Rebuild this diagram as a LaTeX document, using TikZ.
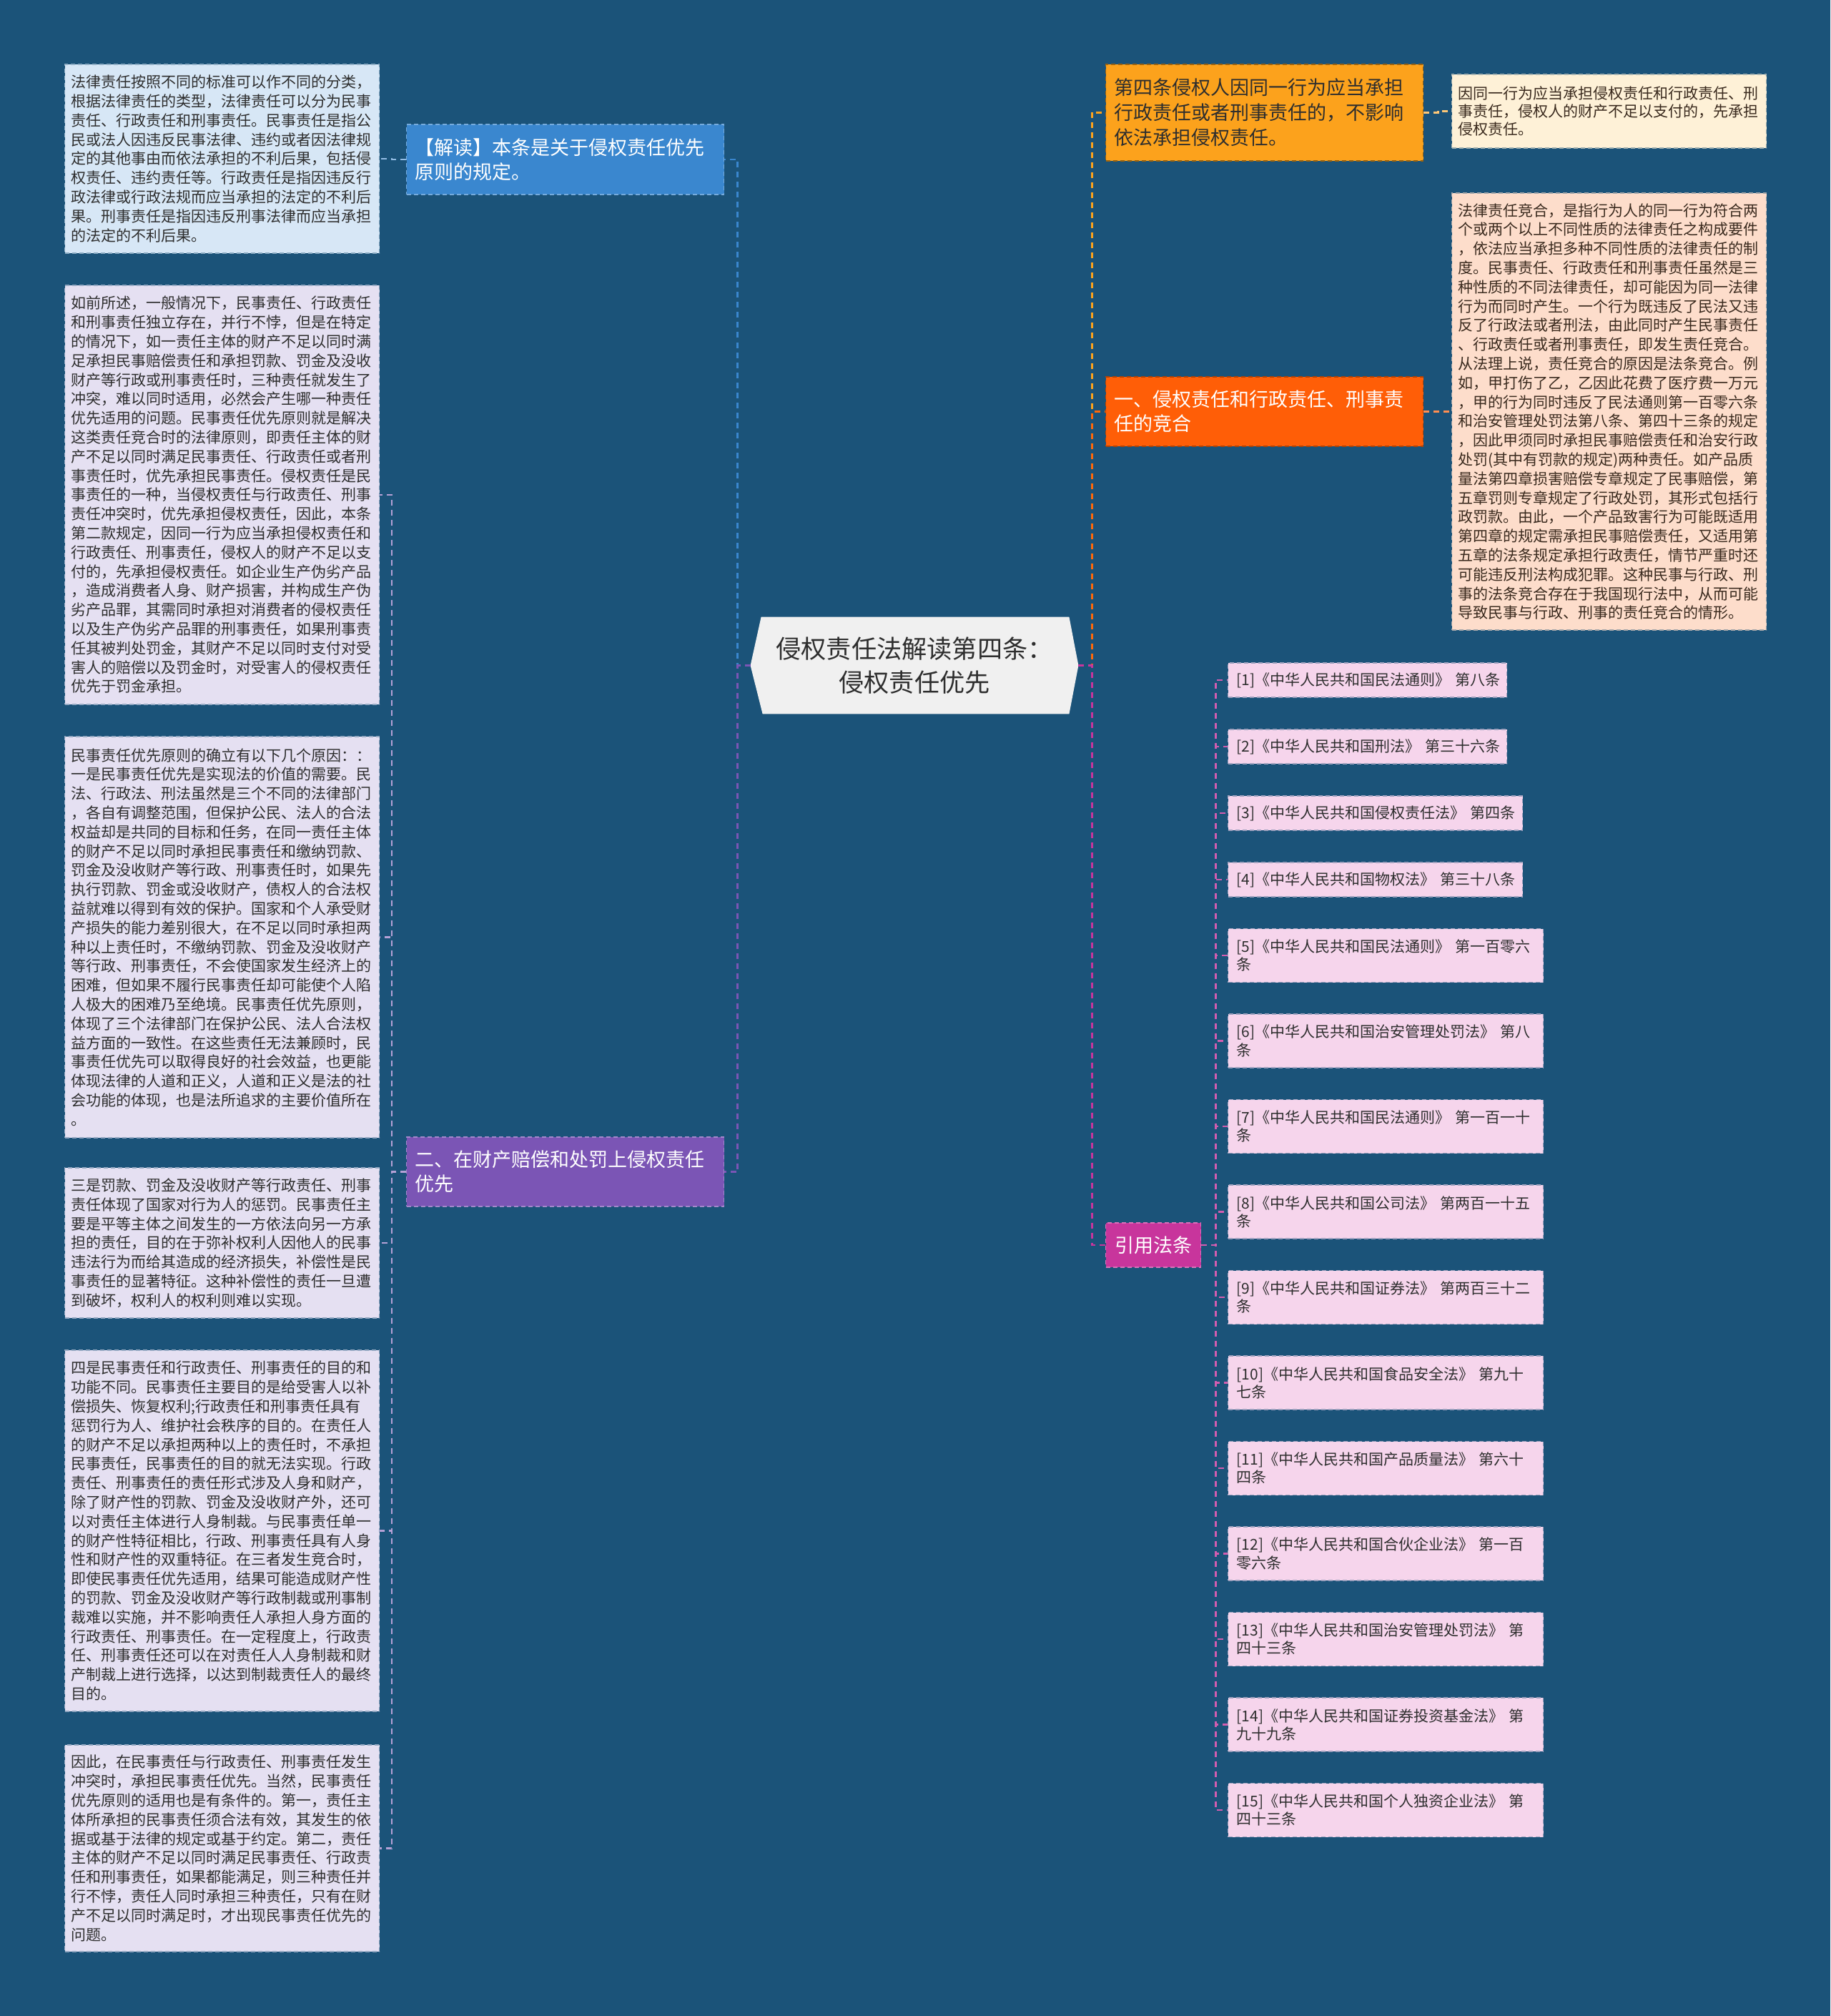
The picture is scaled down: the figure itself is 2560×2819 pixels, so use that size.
\documentclass[tikz,border=0pt]{standalone}
\usepackage{fontspec}
\setmainfont{Noto Sans CJK SC}
\usetikzlibrary{calc}
\pgfdeclarelayer{back}
\pgfdeclarelayer{mid}
\pgfsetlayers{back,mid,main}
\definecolor{bg}{HTML}{1B5379}
\definecolor{centerfill}{HTML}{F0F0F0}
\definecolor{txtdark}{HTML}{2E2E2E}
\definecolor{cblue}{HTML}{3A87CF}
\definecolor{cpurple}{HTML}{7B55B5}
\definecolor{camber}{HTML}{FCA21C}
\definecolor{corange}{HTML}{FF5E07}
\definecolor{cmagenta}{HTML}{C8359C}
\definecolor{lblue}{HTML}{D7E7F6}
\definecolor{llav}{HTML}{E5E0F2}
\definecolor{lcream}{HTML}{FEF1D7}
\definecolor{lpeach}{HTML}{FDDDCB}
\definecolor{lpink}{HTML}{F6D5EC}
\definecolor{brown}{HTML}{3A2A1E}
\tikzset{
  leafbox/.style={rectangle, dash pattern=on 3pt off 2pt, line width=0.6pt,
    inner xsep=4.5pt, inner ysep=0pt, text width=211pt, align=left, anchor=west,
    font=\fontsize{10.5pt}{13.4pt}\selectfont, text=txtdark},
  branchbox/.style={rectangle, dash pattern=on 3pt off 2pt, line width=0.7pt,
    inner xsep=6pt, inner ysep=0pt, text width=210pt, align=left, anchor=west,
    font=\fontsize{13.5pt}{17pt}\selectfont, text=white},
  citebox/.style={rectangle, fill=lpink, draw=lpink!60!bg, dash pattern=on 3pt off 2pt,
    line width=0.6pt, inner xsep=6pt, inner ysep=0pt, align=left, anchor=west,
    font=\fontsize{10.5pt}{12.6pt}\selectfont, text=txtdark},
  conn/.style={line width=1.2pt, dash pattern=on 4pt off 3pt},
}
\begin{document}
\begin{tikzpicture}[x=0.5pt,y=-0.5pt]
\begin{pgfonlayer}{back}
\fill[bg] (0,0) rectangle (2560,2819);
\end{pgfonlayer}
\useasboundingbox (0,0) rectangle (2560,2819);

% centre
\node[rectangle, minimum width=229pt, minimum height=67.5pt, inner sep=0pt, align=center,
  font=\fontsize{17.6pt}{23.5pt}\selectfont, text=txtdark] (c) at (1279,930.5)
  {侵权责任法解读第四条：\\侵权责任优先};

% left branches
\node[branchbox, fill=cblue, draw=cblue!70!white, minimum height=49pt] (jd) at (568,223)
  {【解读】本条是关于侵权责任优先\\原则的规定。};
\node[branchbox, fill=cpurple, draw=cpurple!70!white, minimum height=48.5pt] (p2) at (568,1638.5)
  {二、在财产赔偿和处罚上侵权责任\\优先};

% right branches
\node[branchbox, fill=camber, draw=camber!60!black, text=txtdark, minimum height=67.5pt,
  font=\fontsize{13.5pt}{17.5pt}\selectfont] (o1) at (1546,157.5)
  {第四条侵权人因同一行为应当承担\\行政责任或者刑事责任的，不影响\\依法承担侵权责任。};
\node[branchbox, fill=corange, draw=corange!70!black, minimum height=48.5pt] (o2) at (1546,575.5)
  {一、侵权责任和行政责任、刑事责\\任的竞合};
\node[branchbox, fill=cmagenta, draw=cmagenta!70!white, text width=, minimum width=66.5pt,
  minimum height=31pt, align=center] (cite) at (1546,1741) {引用法条};

% left leaves
\node[leafbox, fill=lblue, draw=lblue!60!bg, minimum height=132pt] (L1) at (90,222) {%
法律责任按照不同的标准可以作不同的分类，\\
根据法律责任的类型，法律责任可以分为民事\\
责任、行政责任和刑事责任。民事责任是指公\\
民或法人因违反民事法律、违约或者因法律规\\
定的其他事由而依法承担的不利后果，包括侵\\
权责任、违约责任等。行政责任是指因违反行\\
政法律或行政法规而应当承担的法定的不利后\\
果。刑事责任是指因违反刑事法律而应当承担\\
的法定的不利后果。};

\node[leafbox, fill=llav, draw=llav!60!bg, minimum height=293pt] (L2) at (90,692) {%
如前所述，一般情况下，民事责任、行政责任\\
和刑事责任独立存在，并行不悖，但是在特定\\
的情况下，如一责任主体的财产不足以同时满\\
足承担民事赔偿责任和承担罚款、罚金及没收\\
财产等行政或刑事责任时，三种责任就发生了\\
冲突，难以同时适用，必然会产生哪一种责任\\
优先适用的问题。民事责任优先原则就是解决\\
这类责任竞合时的法律原则，即责任主体的财\\
产不足以同时满足民事责任、行政责任或者刑\\
事责任时，优先承担民事责任。侵权责任是民\\
事责任的一种，当侵权责任与行政责任、刑事\\
责任冲突时，优先承担侵权责任，因此，本条\\
第二款规定，因同一行为应当承担侵权责任和\\
行政责任、刑事责任，侵权人的财产不足以支\\
付的，先承担侵权责任。如企业生产伪劣产品\\
，造成消费者人身、财产损害，并构成生产伪\\
劣产品罪，其需同时承担对消费者的侵权责任\\
以及生产伪劣产品罪的刑事责任，如果刑事责\\
任其被判处罚金，其财产不足以同时支付对受\\
害人的赔偿以及罚金时，对受害人的侵权责任\\
优先于罚金承担。};

\node[leafbox, fill=llav, draw=llav!60!bg, minimum height=280.5pt] (L3) at (90,1310.5) {%
民事责任优先原则的确立有以下几个原因：：\\
一是民事责任优先是实现法的价值的需要。民\\
法、行政法、刑法虽然是三个不同的法律部门\\
，各自有调整范围，但保护公民、法人的合法\\
权益却是共同的目标和任务，在同一责任主体\\
的财产不足以同时承担民事责任和缴纳罚款、\\
罚金及没收财产等行政、刑事责任时，如果先\\
执行罚款、罚金或没收财产，债权人的合法权\\
益就难以得到有效的保护。国家和个人承受财\\
产损失的能力差别很大，在不足以同时承担两\\
种以上责任时，不缴纳罚款、罚金及没收财产\\
等行政、刑事责任，不会使国家发生经济上的\\
困难，但如果不履行民事责任却可能使个人陷\\
人极大的困难乃至绝境。民事责任优先原则，\\
体现了三个法律部门在保护公民、法人合法权\\
益方面的一致性。在这些责任无法兼顾时，民\\
事责任优先可以取得良好的社会效益，也更能\\
体现法律的人道和正义，人道和正义是法的社\\
会功能的体现，也是法所追求的主要价值所在\\
。};

\node[leafbox, fill=llav, draw=llav!60!bg, minimum height=105pt] (L4) at (90,1738) {%
三是罚款、罚金及没收财产等行政责任、刑事\\
责任体现了国家对行为人的惩罚。民事责任主\\
要是平等主体之间发生的一方依法向另一方承\\
担的责任，目的在于弥补权利人因他人的民事\\
违法行为而给其造成的经济损失，补偿性是民\\
事责任的显著特征。这种补偿性的责任一旦遭\\
到破坏，权利人的权利则难以实现。};

\node[leafbox, fill=llav, draw=llav!60!bg, minimum height=252.5pt] (L5) at (90,2140.5) {%
四是民事责任和行政责任、刑事责任的目的和\\
功能不同。民事责任主要目的是给受害人以补\\
偿损失、恢复权利;行政责任和刑事责任具有\\
惩罚行为人、维护社会秩序的目的。在责任人\\
的财产不足以承担两种以上的责任时，不承担\\
民事责任，民事责任的目的就无法实现。行政\\
责任、刑事责任的责任形式涉及人身和财产，\\
除了财产性的罚款、罚金及没收财产外，还可\\
以对责任主体进行人身制裁。与民事责任单一\\
的财产性特征相比，行政、刑事责任具有人身\\
性和财产性的双重特征。在三者发生竞合时，\\
即使民事责任优先适用，结果可能造成财产性\\
的罚款、罚金及没收财产等行政制裁或刑事制\\
裁难以实施，并不影响责任人承担人身方面的\\
行政责任、刑事责任。在一定程度上，行政责\\
任、刑事责任还可以在对责任人人身制裁和财\\
产制裁上进行选择，以达到制裁责任人的最终\\
目的。};

\node[leafbox, fill=llav, draw=llav!60!bg, minimum height=144.5pt] (L6) at (90,2584.5) {%
因此，在民事责任与行政责任、刑事责任发生\\
冲突时，承担民事责任优先。当然，民事责任\\
优先原则的适用也是有条件的。第一，责任主\\
体所承担的民事责任须合法有效，其发生的依\\
据或基于法律的规定或基于约定。第二，责任\\
主体的财产不足以同时满足民事责任、行政责\\
任和刑事责任，如果都能满足，则三种责任并\\
行不悖，责任人同时承担三种责任，只有在财\\
产不足以同时满足时，才出现民事责任优先的\\
问题。};

% right leaves
\node[leafbox, fill=lcream, draw=lcream!60!bg, text=brown, minimum height=51.5pt,
  font=\fontsize{10.5pt}{12.4pt}\selectfont] (R1) at (2030,155.5) {%
因同一行为应当承担侵权责任和行政责任、刑\\
事责任，侵权人的财产不足以支付的，先承担\\
侵权责任。};

\node[leafbox, fill=lpeach, draw=lpeach!60!bg, text=brown, minimum height=305.5pt] (R2) at (2030,575.5) {%
法律责任竞合，是指行为人的同一行为符合两\\
个或两个以上不同性质的法律责任之构成要件\\
，依法应当承担多种不同性质的法律责任的制\\
度。民事责任、行政责任和刑事责任虽然是三\\
种性质的不同法律责任，却可能因为同一法律\\
行为而同时产生。一个行为既违反了民法又违\\
反了行政法或者刑法，由此同时产生民事责任\\
、行政责任或者刑事责任，即发生责任竞合。\\
从法理上说，责任竞合的原因是法条竞合。例\\
如，甲打伤了乙，乙因此花费了医疗费一万元\\
，甲的行为同时违反了民法通则第一百零六条\\
和治安管理处罚法第八条、第四十三条的规定\\
，因此甲须同时承担民事赔偿责任和治安行政\\
处罚(其中有罚款的规定)两种责任。如产品质\\
量法第四章损害赔偿专章规定了民事赔偿，第\\
五章罚则专章规定了行政处罚，其形式包括行\\
政罚款。由此，一个产品致害行为可能既适用\\
第四章的规定需承担民事赔偿责任，又适用第\\
五章的法条规定承担行政责任，情节严重时还\\
可能违反刑法构成犯罪。这种民事与行政、刑\\
事的法条竞合存在于我国现行法中，从而可能\\
导致民事与行政、刑事的责任竞合的情形。};

% citations
\node[citebox, text width=183pt, minimum height=24pt] (C1) at (1717,951) {[1]《中华人民共和国民法通则》~第八条};
\node[citebox, text width=183pt, minimum height=24pt] (C2) at (1717,1044) {[2]《中华人民共和国刑法》~第三十六条};
\node[citebox, text width=194pt, minimum height=24pt] (C3) at (1717,1137) {[3]《中华人民共和国侵权责任法》~第四条};
\node[citebox, text width=194pt, minimum height=24pt] (C4) at (1717,1230) {[4]《中华人民共和国物权法》~第三十八条};
\node[citebox, text width=208.5pt, minimum height=37.5pt] (C5) at (1717,1336) {[5]《中华人民共和国民法通则》~第一百零六\\条};
\node[citebox, text width=208.5pt, minimum height=37.5pt] (C6) at (1717,1455.5) {[6]《中华人民共和国治安管理处罚法》~第八\\条};
\node[citebox, text width=208.5pt, minimum height=37.5pt] (C7) at (1717,1575) {[7]《中华人民共和国民法通则》~第一百一十\\条};
\node[citebox, text width=208.5pt, minimum height=37.5pt] (C8) at (1717,1694.5) {[8]《中华人民共和国公司法》~第两百一十五\\条};
\node[citebox, text width=208.5pt, minimum height=37.5pt] (C9) at (1717,1814) {[9]《中华人民共和国证券法》~第两百三十二\\条};
\node[citebox, text width=208.5pt, minimum height=37.5pt] (C10) at (1717,1933.5) {[10]《中华人民共和国食品安全法》~第九十\\七条};
\node[citebox, text width=208.5pt, minimum height=37.5pt] (C11) at (1717,2053) {[11]《中华人民共和国产品质量法》~第六十\\四条};
\node[citebox, text width=208.5pt, minimum height=37.5pt] (C12) at (1717,2172.5) {[12]《中华人民共和国合伙企业法》~第一百\\零六条};
\node[citebox, text width=208.5pt, minimum height=37.5pt] (C13) at (1717,2292) {[13]《中华人民共和国治安管理处罚法》~第\\四十三条};
\node[citebox, text width=208.5pt, minimum height=37.5pt] (C14) at (1717,2411.5) {[14]《中华人民共和国证券投资基金法》~第\\九十九条};
\node[citebox, text width=208.5pt, minimum height=37.5pt] (C15) at (1717,2531) {[15]《中华人民共和国个人独资企业法》~第\\四十三条};

\begin{pgfonlayer}{mid}
% centre hexagon
\fill[centerfill] (c.west) -- ($(c.north west)+(15,0)$) -- ($(c.north east)+(-13,0)$)
  -- (c.east) -- ($(c.south east)+(-13,0)$) -- ($(c.south west)+(17,0)$) -- cycle;
% left connectors
\draw[conn, cblue] (c.west) -- ++(-18,0) |- (jd.east);
\draw[conn, cpurple] (c.west) -- ++(-18,0) |- (p2.east);
\draw[conn, cblue!55!white] (jd.west) -- ++(-20,0) |- (L1.east);
\foreach \i in {2,...,6} \draw[conn, cpurple!55!white] (p2.west) -- ++(-20,0) |- (L\i.east);
% right connectors
\draw[conn, camber] (c.east) -- ++(19,0) |- (o1.west);
\draw[conn, corange!85!camber] (c.east) -- ++(19,0) |- (o2.west);
\draw[conn, cmagenta] (c.east) -- ++(19,0) |- (cite.west);
\draw[conn, camber!60!white] (o1.east) -- ++(20,0) |- (R1.west);
\draw[conn, corange!70!white] (o2.east) -- ++(20,0) |- (R2.west);
\foreach \i in {1,...,15} \draw[conn, cmagenta!80!white] (cite.east) -- ++(20,0) |- (C\i.west);
\end{pgfonlayer}
\end{tikzpicture}
\end{document}
